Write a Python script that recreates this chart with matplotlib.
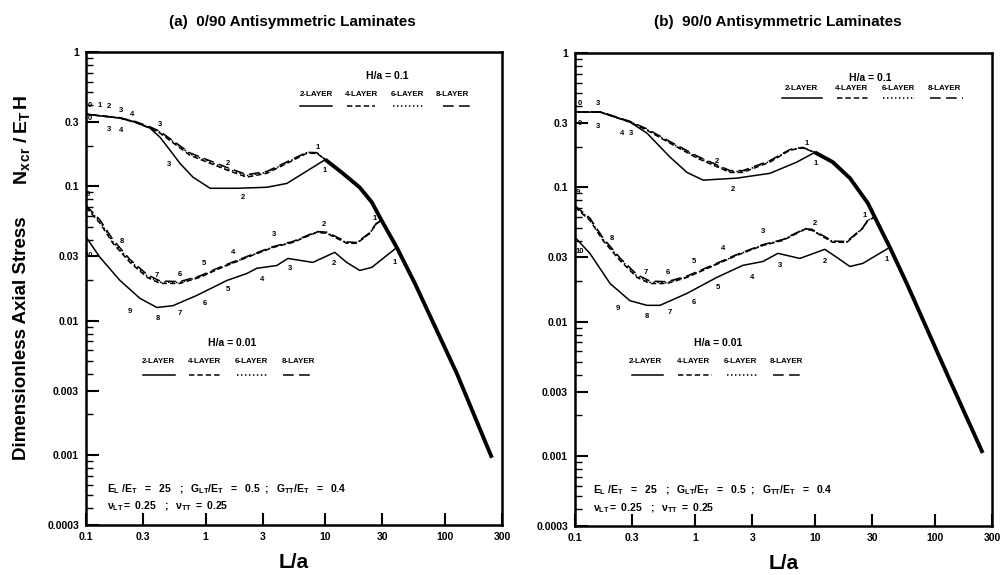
import numpy as np
import matplotlib
matplotlib.use("Agg")
import matplotlib.pyplot as plt
from matplotlib.ticker import FixedLocator, NullFormatter, LogLocator

plt.rcParams['font.family'] = ['Liberation Sans', 'DejaVu Sans']
plt.rcParams['font.weight'] = 'bold'
plt.rcParams['axes.labelweight'] = 'bold'
plt.rcParams['mathtext.fontset'] = 'custom'
plt.rcParams['mathtext.rm'] = 'Liberation Sans:bold'
plt.rcParams['mathtext.it'] = 'Liberation Sans:bold'
plt.rcParams['mathtext.bf'] = 'Liberation Sans:bold'

# ---- panel (a) 0/90 ----
# H/a = 0.1
a_hi_2L_x = [0.1, 0.192, 0.257, 0.343, 0.415, 0.503, 0.61, 0.783, 1.09, 1.83, 3.25, 4.78, 10.0]
a_hi_2L_y = [0.344, 0.322, 0.300, 0.271, 0.232, 0.186, 0.148, 0.117, 0.0966, 0.0966, 0.0983,
             0.105, 0.158]
a_hi_n_x = [0.1, 0.192, 0.257, 0.343, 0.415, 0.74, 1.51, 2.21, 3.25, 4.78, 7.0, 8.5, 10.0]
a_hi_4L_y = [0.344, 0.322, 0.300, 0.271, 0.249, 0.170, 0.132, 0.117, 0.125, 0.148, 0.176, 0.176, 0.158]
a_hi_6L_y = [0.344, 0.323, 0.302, 0.274, 0.253, 0.174, 0.135, 0.120, 0.127, 0.150, 0.178, 0.177, 0.158]
a_hi_8L_y = [0.344, 0.324, 0.304, 0.277, 0.256, 0.177, 0.138, 0.122, 0.129, 0.152, 0.179, 0.178, 0.158]
# H/a = 0.01
a_lo_2L_x = [0.1, 0.131, 0.192, 0.283, 0.392, 0.533, 0.846, 1.51, 2.21, 2.68, 3.94, 4.87,
             7.87, 12.0, 15.1, 19.4, 24.5, 39.6]
a_lo_2L_y = [0.0419, 0.0295, 0.0199, 0.0146, 0.0125, 0.0129, 0.0154, 0.0199, 0.0224, 0.0245,
             0.0257, 0.029, 0.0271, 0.0322, 0.0271, 0.0236, 0.0249, 0.035]
a_lo_n_x = [0.1, 0.131, 0.168, 0.233, 0.324, 0.415, 0.61, 0.896, 1.32, 2.21, 3.65, 5.36,
            8.5, 10.3, 15.1, 18.4, 23.6, 26.5, 29.5]
a_lo_4L_y = [0.0697, 0.053, 0.0376, 0.0271, 0.021, 0.0189, 0.0189, 0.021, 0.0245, 0.0295,
             0.035, 0.0382, 0.0454, 0.0446, 0.0376, 0.0376, 0.0446, 0.052, 0.056]
a_lo_6L_y = [0.0705, 0.0545, 0.0385, 0.0278, 0.0215, 0.0193, 0.0192, 0.0212, 0.0247, 0.0297,
             0.0352, 0.0385, 0.0457, 0.045, 0.038, 0.0379, 0.0449, 0.0522, 0.056]
a_lo_8L_y = [0.072, 0.056, 0.040, 0.0285, 0.022, 0.0197, 0.0195, 0.0215, 0.025, 0.030,
             0.0355, 0.0388, 0.046, 0.0455, 0.0385, 0.0382, 0.0452, 0.0525, 0.056]
# common branch (all layers)
a_env_x = [10.0, 14.0, 19.4, 24.5, 28.6, 39.6, 56.1, 126, 247]
a_env_y = [0.158, 0.125, 0.098, 0.076, 0.0587, 0.035, 0.0189, 0.00402, 0.00095]

a_hi_labels = [("0", 0.108, 0.402), ("1", 0.131, 0.402), ("2", 0.156, 0.395), ("3", 0.196, 0.369),
               ("4", 0.242, 0.344), ("0", 0.108, 0.322), ("3", 0.156, 0.266), ("4", 0.196, 0.262),
               ("3", 0.415, 0.290), ("3", 0.493, 0.146), ("2", 1.53, 0.148), ("2", 2.05, 0.0828),
               ("1", 8.67, 0.195), ("1", 9.93, 0.132)]
a_lo_labels = [("9", 0.104, 0.087), ("8", 0.2, 0.0389), ("10", 0.106, 0.0306), ("7", 0.392, 0.0217),
               ("6", 0.61, 0.022), ("5", 0.968, 0.0266), ("4", 1.69, 0.0322), ("3", 3.72, 0.0438),
               ("2", 9.73, 0.052), ("1", 25.9, 0.0577),
               ("9", 0.233, 0.0117), ("8", 0.4, 0.0103), ("7", 0.61, 0.0113), ("6", 0.987, 0.0134),
               ("5", 1.53, 0.017), ("4", 2.95, 0.0202), ("3", 5.06, 0.0245), ("2", 11.8, 0.0266),
               ("1", 38.1, 0.0271)]

# ---- panel (b) 90/0 ----
b_hi_2L_x = [0.1, 0.162, 0.287, 0.398, 0.619, 0.858, 1.17, 2.24, 4.22, 7.08, 10.0]
b_hi_2L_y = [0.363, 0.363, 0.306, 0.253, 0.168, 0.129, 0.113, 0.117, 0.127, 0.154, 0.182]
b_hi_n_x = [0.1, 0.162, 0.287, 0.398, 0.619, 1.04, 1.96, 2.51, 4.22, 6.19, 7.94, 10.0]
b_hi_4L_y = [0.363, 0.363, 0.306, 0.266, 0.213, 0.165, 0.129, 0.129, 0.154, 0.189, 0.196, 0.182]
b_hi_6L_y = [0.363, 0.364, 0.308, 0.269, 0.216, 0.168, 0.131, 0.131, 0.156, 0.190, 0.197, 0.182]
b_hi_8L_y = [0.363, 0.365, 0.310, 0.272, 0.219, 0.171, 0.133, 0.133, 0.158, 0.191, 0.198, 0.182]
b_lo_2L_x = [0.1, 0.133, 0.196, 0.287, 0.398, 0.511, 0.858, 1.52, 2.51, 3.69, 4.92, 7.5,
             12.1, 15.2, 19.6, 25.1, 42.2]
b_lo_2L_y = [0.0424, 0.0322, 0.0192, 0.0143, 0.0132, 0.0132, 0.0162, 0.0213, 0.0262, 0.028,
             0.0322, 0.0295, 0.0345, 0.0301, 0.0257, 0.0271, 0.0357]
b_lo_n_x = [0.1, 0.133, 0.171, 0.237, 0.329, 0.422, 0.585, 0.858, 1.33, 2.24, 3.69, 5.41,
            8.25, 9.44, 14.1, 18.5, 25.1, 27.7, 31.6]
b_lo_4L_y = [0.0709, 0.0567, 0.0402, 0.0285, 0.0213, 0.0192, 0.0192, 0.0213, 0.0253, 0.0311,
             0.0369, 0.0402, 0.0486, 0.0478, 0.0389, 0.0389, 0.0494, 0.0567, 0.0598]
b_lo_6L_y = [0.0718, 0.058, 0.041, 0.0292, 0.0218, 0.0196, 0.0195, 0.0215, 0.0255, 0.0313,
             0.0371, 0.0405, 0.0489, 0.0482, 0.0393, 0.0392, 0.0497, 0.0569, 0.0598]
b_lo_8L_y = [0.0728, 0.059, 0.042, 0.0298, 0.0223, 0.02, 0.0198, 0.0218, 0.0258, 0.0316,
             0.0374, 0.0408, 0.0492, 0.0486, 0.0397, 0.0395, 0.05, 0.0571, 0.0598]
b_env_x = [10.0, 14.1, 19.6, 27.7, 34.8, 42.2, 58.4, 126, 251]
b_env_y = [0.182, 0.154, 0.117, 0.076, 0.0503, 0.0357, 0.0192, 0.0041, 0.00105]

b_hi_labels = [("0", 0.110, 0.424), ("3", 0.156, 0.424), ("0", 0.110, 0.30), ("3", 0.156, 0.285),
               ("4", 0.246, 0.253), ("3", 0.293, 0.253), ("2", 1.52, 0.156), ("2", 2.07, 0.0966),
               ("1", 8.58, 0.213), ("1", 10.2, 0.151)]
b_lo_labels = [("9", 0.106, 0.0918), ("8", 0.203, 0.0416), ("10", 0.110, 0.0333), ("7", 0.391, 0.0232),
               ("6", 0.596, 0.0232), ("5", 0.98, 0.028), ("4", 1.71, 0.035), ("3", 3.69, 0.047),
               ("2", 10.0, 0.0539), ("1", 26.1, 0.0618),
               ("9", 0.228, 0.0125), ("8", 0.398, 0.0109), ("7", 0.619, 0.0117), ("6", 0.98, 0.0139),
               ("5", 1.56, 0.0179), ("4", 2.99, 0.0213), ("3", 5.11, 0.0262), ("2", 12.1, 0.028),
               ("1", 39.8, 0.029)]

x_ticks = [0.1, 0.3, 1, 3, 10, 30, 100, 300]
x_ticklabels = ["0.1", "0.3", "1", "3", "10", "30", "100", "300"]
y_ticks = [1, 0.3, 0.1, 0.03, 0.01, 0.003, 0.001, 0.0003]
y_ticklabels = ["1", "0.3", "0.1", "0.03", "0.01", "0.003", "0.001", "0.0003"]
layer_names = ["2-LAYER", "4-LAYER", "6-LAYER", "8-LAYER"]
styles = ['-', (0, (3.5, 2)), (0, (1, 1.6)), (0, (7, 3.5))]

params_1 = r"$E_L\ /E_T\ \ =\ \ 25\ \ \ ;\ \ G_{LT}/E_T\ \ =\ \ 0.5\ \ ;\ \ G_{TT}/E_T\ \ =\ \ 0.4$"
params_2 = r"$\nu_{LT} =\ 0.25\ \ \ ;\ \ \nu_{TT}\ =\ 0.25$"

LW = 1.1


def legend_block(ax, title, tx, ty, name_y, line_y, centers, spans):
    ax.text(tx, ty, title, transform=ax.transAxes, ha='center', va='center', fontsize=7.5)
    for name, c, (x0, x1), st in zip(layer_names, centers, spans, styles):
        ax.text(c, name_y, name, transform=ax.transAxes, ha='center', va='center', fontsize=5.8)
        ax.plot([x0, x1], [line_y, line_y], transform=ax.transAxes, color='black',
                lw=LW, linestyle=st)


def draw_panel(ax, hi2x, hi2y, hinx, hi4, hi6, hi8, lo2x, lo2y, lonx, lo4, lo6, lo8,
               envx, envy, hi_lab, lo_lab):
    ax.plot(hi2x, hi2y, color='black', lw=LW, linestyle=styles[0])
    for yy, st in zip([hi4, hi6, hi8], styles[1:]):
        ax.plot(hinx, yy, color='black', lw=LW, linestyle=st)
    ax.plot(lo2x, lo2y, color='black', lw=LW, linestyle=styles[0])
    for yy, st in zip([lo4, lo6, lo8], styles[1:]):
        ax.plot(lonx, yy, color='black', lw=LW, linestyle=st)
    ax.plot(envx, envy, color='black', lw=2.8, solid_capstyle='butt')
    for t, x, y in hi_lab + lo_lab:
        ax.text(x, y, t, ha='center', va='center', fontsize=5.5)

    ax.set_xscale('log')
    ax.set_yscale('log')
    ax.set_xlim(0.1, 300)
    ax.set_ylim(0.0003, 1)
    ax.xaxis.set_major_locator(FixedLocator(x_ticks))
    ax.set_xticklabels(x_ticklabels)
    ax.xaxis.set_minor_locator(FixedLocator([]))
    ax.yaxis.set_major_locator(FixedLocator(y_ticks))
    ax.set_yticklabels(y_ticklabels)
    ax.yaxis.set_minor_locator(LogLocator(base=10, subs=np.arange(2, 10)))
    ax.yaxis.set_minor_formatter(NullFormatter())
    ax.tick_params(axis='both', which='major', direction='in', length=9, width=1.5,
                   labelsize=7.5, pad=5, top=False, right=False)
    ax.tick_params(axis='y', which='minor', direction='in', length=5, width=1.0, right=False)
    for s in ax.spines.values():
        s.set_linewidth(1.8)
    for lab in ax.get_xticklabels() + ax.get_yticklabels():
        lab.set_fontweight('bold')
    ax.set_xlabel("L/a", fontsize=15, fontweight='bold', labelpad=8)


fig = plt.figure(figsize=(10.06, 5.75), dpi=100)
ax_a = fig.add_axes([86 / 1006, 1 - 525 / 575, 416 / 1006, 473 / 575])
ax_b = fig.add_axes([575 / 1006, 1 - 526 / 575, 417 / 1006, 473 / 575])

draw_panel(ax_a, a_hi_2L_x, a_hi_2L_y, a_hi_n_x, a_hi_4L_y, a_hi_6L_y, a_hi_8L_y,
           a_lo_2L_x, a_lo_2L_y, a_lo_n_x, a_lo_4L_y, a_lo_6L_y, a_lo_8L_y,
           a_env_x, a_env_y, a_hi_labels, a_lo_labels)
draw_panel(ax_b, b_hi_2L_x, b_hi_2L_y, b_hi_n_x, b_hi_4L_y, b_hi_6L_y, b_hi_8L_y,
           b_lo_2L_x, b_lo_2L_y, b_lo_n_x, b_lo_4L_y, b_lo_6L_y, b_lo_8L_y,
           b_env_x, b_env_y, b_hi_labels, b_lo_labels)

legend_block(ax_a, "H/a = 0.1", 0.724, 0.949, 0.911, 0.886,
             [0.555, 0.663, 0.772, 0.882],
             [(0.514, 0.591), (0.627, 0.695), (0.738, 0.810), (0.858, 0.928)])
legend_block(ax_a, "H/a = 0.01", 0.351, 0.385, 0.345, 0.317,
             [0.173, 0.284, 0.397, 0.510],
             [(0.137, 0.214), (0.248, 0.322), (0.363, 0.435), (0.474, 0.550)])
legend_block(ax_b, "H/a = 0.1", 0.707, 0.947, 0.924, 0.905,
             [0.542, 0.662, 0.775, 0.885],
             [(0.496, 0.592), (0.628, 0.707), (0.739, 0.815), (0.851, 0.930)])
legend_block(ax_b, "H/a = 0.01", 0.343, 0.387, 0.347, 0.319,
             [0.170, 0.283, 0.396, 0.508],
             [(0.137, 0.211), (0.247, 0.329), (0.365, 0.436), (0.475, 0.552)])

ax_a.text(0.050, 0.076, params_1, transform=ax_a.transAxes, ha='left', va='center', fontsize=7.5)
ax_a.text(0.050, 0.040, params_2, transform=ax_a.transAxes, ha='left', va='center', fontsize=7.5)
ax_b.text(0.043, 0.076, params_1, transform=ax_b.transAxes, ha='left', va='center', fontsize=7.5)
ax_b.text(0.043, 0.038, params_2, transform=ax_b.transAxes, ha='left', va='center', fontsize=7.5)

fig.text(292 / 1006, 1 - 22 / 575, "(a)  0/90 Antisymmetric Laminates", ha='center', va='center',
         fontsize=11)
fig.text(778 / 1006, 1 - 22 / 575, "(b)  90/0 Antisymmetric Laminates", ha='center', va='center',
         fontsize=11)
fig.text(22 / 1006, 1 - 140 / 575, r"$N_{x\,cr}\ /\,E_T\,H$", rotation=90, ha='center', va='center',
         fontsize=14)
fig.text(22 / 1006, 1 - 338 / 575, "Dimensionless Axial Stress", rotation=90, ha='center',
         va='center', fontsize=13.5)

fig.savefig("out.png", dpi=100)
